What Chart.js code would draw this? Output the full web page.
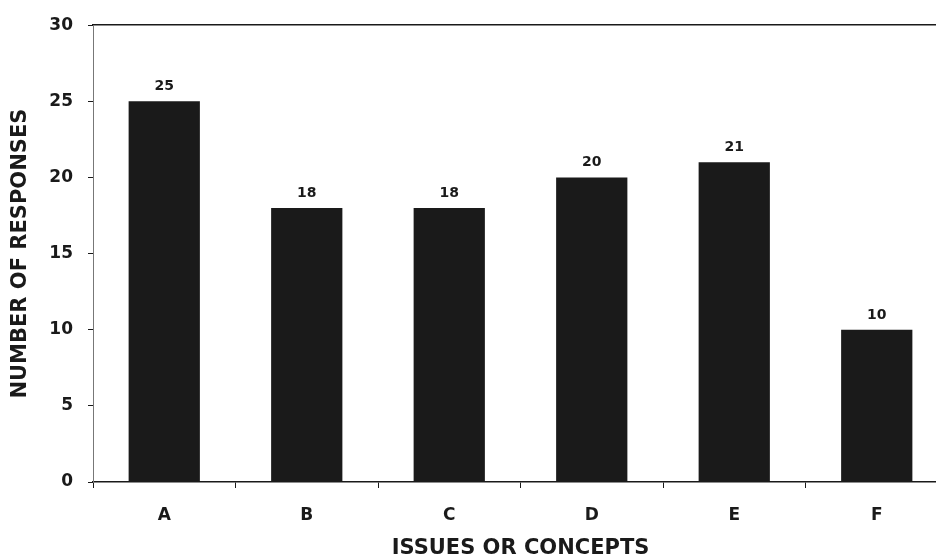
<!DOCTYPE html>
<html>
<head>
<meta charset="utf-8">
<script src="https://cdn.jsdelivr.net/npm/chart.js@4"></script>
<style>
  html, body { margin: 0; padding: 0; background: #fff; overflow: hidden; }
  #wrap { width: 948px; height: 559px; }
</style>
</head>
<body>
<div id="wrap"><canvas id="responsesChart"></canvas></div>
<script>
// Responses per issue / concept
var categories = ["A", "B", "C", "D", "E", "F"];
var responses = [25, 18, 18, 20, 21, 10];
var yTicks = [0, 5, 10, 15, 20, 25, 30];

var ink = "#1a1a1a";
var font = "'DejaVu Sans', Verdana, sans-serif";

/** Writes each bar's value just above it */
var valueLabels = {
	id: "valueLabels",
	afterDatasetsDraw: function(chart) {
		var ctx = chart.ctx;
		var meta = chart.getDatasetMeta(0);
		ctx.save();
		ctx.fillStyle = ink;
		ctx.font = "bold 14px " + font;
		ctx.textAlign = "center";
		ctx.textBaseline = "alphabetic";
		meta.data.forEach(function(bar, i) {
			ctx.fillText(chart.data.datasets[0].data[i], bar.x, bar.y - 11);
		});
		ctx.restore();
	}
};

var ctx = document.getElementById("responsesChart").getContext("2d");
var myChart = new Chart(ctx, {
	type: "bar",
	data: {
		labels: categories,
		datasets: [{
			data: responses,
			backgroundColor: ink,
			borderWidth: 0,
			barPercentage: 0.5,
			categoryPercentage: 1.0
		}]
	},
	options: {
		responsive: true,
		maintainAspectRatio: false,
		animation: false,
		layout: { padding: 0 },
		plugins: {
			legend: { display: false },
			tooltip: { enabled: false }
		},
		scales: {
			x: {
				position: "bottom",
				grid: { display: true, drawOnChartArea: false, drawTicks: true, tickLength: 6, color: ink, offset: true },
				border: { display: true, color: ink, width: 1.5 },
				ticks: { color: ink, font: { family: font, size: 17, weight: "bold" }, padding: 17 },
				title: { display: true, text: "ISSUES OR CONCEPTS", color: ink, font: { family: font, size: 21, weight: "bold", lineHeight: 1 }, padding: 0 },
				afterFit: function(scale) { scale.height = 77; }
			},
			xTop: {
				position: "top",
				grid: { display: false },
				border: { display: true, color: ink, width: 1.5 },
				ticks: { display: false },
				afterFit: function(scale) { scale.height = 25; }
			},
			y: {
				min: 0,
				max: 30,
				afterBuildTicks: function(scale) {
					scale.ticks = yTicks.map(function(v) { return { value: v }; });
				},
				grid: { display: true, drawOnChartArea: false, drawTicks: true, tickLength: 5, color: ink },
				border: { display: true, color: "#777", width: 1 },
				ticks: { color: ink, font: { family: font, size: 17, weight: "bold" }, padding: 15 },
				title: { display: true, text: "NUMBER OF RESPONSES", color: ink, font: { family: font, size: 21, weight: "bold", lineHeight: 1 }, padding: { top: 10, bottom: 0 } },
				afterFit: function(scale) { scale.width = 93; }
			}
		}
	},
	plugins: [valueLabels]
});
</script>
</body>
</html>
